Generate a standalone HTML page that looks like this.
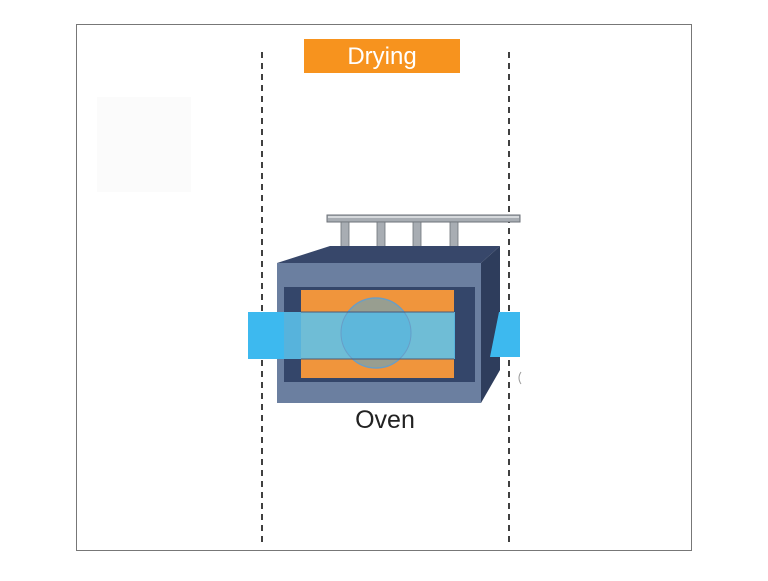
<!DOCTYPE html>
<html><head><meta charset="utf-8"><style>
html,body{margin:0;padding:0;background:#fff;}
body{width:768px;height:576px;position:relative;overflow:hidden;font-family:"Liberation Sans",sans-serif;}
</style></head><body>
<svg width="768" height="576" viewBox="0 0 768 576" xmlns="http://www.w3.org/2000/svg">
<rect x="76.5" y="24.5" width="615" height="526" fill="#fff" stroke="#777" stroke-width="1"/>
<rect x="97" y="97" width="94" height="95" fill="#fbfbfb"/>
<line x1="262" y1="52" x2="262" y2="546" stroke="#111" stroke-width="1.6" stroke-dasharray="6,5"/>
<line x1="509" y1="52" x2="509" y2="546" stroke="#111" stroke-width="1.6" stroke-dasharray="6,5"/>
<rect x="304" y="39" width="156" height="34" fill="#f7931e"/>
<text x="382" y="64" font-size="24" fill="#fff" text-anchor="middle" font-family="Liberation Sans, sans-serif">Drying</text>
<rect x="327" y="215" width="193" height="7" fill="#a8adb3" stroke="#6d7278" stroke-width="1"/>
<line x1="328" y1="217" x2="519" y2="217" stroke="#e5e8ea" stroke-width="1.5"/>
<g fill="#a8adb3" stroke="#6d7278" stroke-width="0.8">
<rect x="341" y="222" width="8" height="30"/><rect x="377" y="222" width="8" height="30"/>
<rect x="413" y="222" width="8" height="30"/><rect x="450" y="222" width="8" height="30"/>
</g>
<polygon points="277,263 330,246 500,246 481,263" fill="#37476a"/>
<polygon points="481,263 500,246 500,370 481,403" fill="#2e3d5c"/>
<rect x="277" y="263" width="204" height="140" fill="#6b7fa0"/>
<rect x="284" y="287" width="191" height="95" fill="#34466a"/>
<rect x="301" y="290" width="153" height="88" fill="#f0953c"/>
<circle cx="376" cy="333" r="35" fill="#e08a40" stroke="#8a95a8" stroke-width="1.5"/>
<rect x="248" y="312" width="207" height="47" fill="#5cc3ec" fill-opacity="0.88"/>
<circle cx="376" cy="333" r="35" fill="#4fb2e0" fill-opacity="0.5" stroke="#6a9ec4" stroke-width="1"/>
<rect x="248" y="312" width="36" height="47" fill="#3db9ef"/>
<polygon points="499,312 520,312 520,357 490,357" fill="#3db9ef"/>
<line x1="301" y1="312" x2="454" y2="312" stroke="#4a5a78" stroke-width="1"/>
<line x1="301" y1="359" x2="454" y2="359" stroke="#4a5a78" stroke-width="1"/>
<text x="385" y="428" font-size="25" fill="#222" text-anchor="middle" font-family="Liberation Sans, sans-serif">Oven</text>
<path d="M521,372 q-4,6 0,12" stroke="#999" fill="none" stroke-width="1"/>
</svg>
</body></html>
